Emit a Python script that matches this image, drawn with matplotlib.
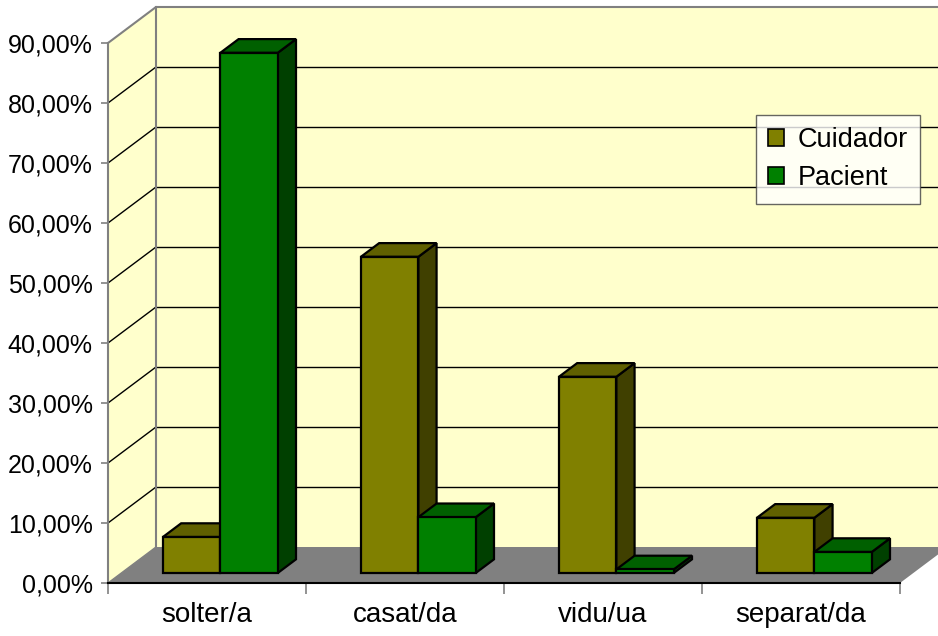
import matplotlib.pyplot as plt
from matplotlib.patches import Polygon

categories = ["solter/a", "casat/da", "vidu/ua", "separat/da"]
series_names = ["Cuidador", "Pacient"]
cuidador = [6.0, 52.7, 32.7, 9.2]
pacient = [86.7, 9.3, 0.6, 3.5]
y_ticks = [0, 10, 20, 30, 40, 50, 60, 70, 80, 90]

# colors: front, top, side
colors = {
    "Cuidador": ("#808000", "#606000", "#404000"),
    "Pacient": ("#008000", "#006000", "#004000"),
}

# depth of the fake 3d box, in data units
DX = 0.2424
DY = 6.0
BAR_OFF = 0.278   # where bars start in depth
BAR_DEPTH = 0.38
BAR_W = 0.29
GAP = 0.21

plt.rcParams['font.family'] = ['Liberation Sans', 'DejaVu Sans']

fig = plt.figure(figsize=(9.38, 6.36), dpi=100)
ax = fig.add_axes([108 / 938, (636 - 583) / 636, 792 / 938, 540 / 636])
n = len(categories)
ax.set_xlim(0, n)
ax.set_ylim(0, 90)


def poly(pts, fc, ec="none", lw=0, z=1):
    p = Polygon(pts, closed=True, facecolor=fc, edgecolor=ec, linewidth=lw,
                clip_on=False, zorder=z, joinstyle="miter")
    ax.add_patch(p)
    return p


top = y_ticks[-1]

# walls and floor
poly([(DX, DY), (n + DX, DY), (n + DX, top + DY), (DX, top + DY)], "#FFFFCC", z=1)
poly([(0, 0), (DX, DY), (DX, top + DY), (0, top)], "#FFFFCC", z=1)
poly([(0, 0), (n, 0), (n + DX, DY), (DX, DY)], "#808080", z=1)

for v in y_ticks[1:-1]:
    ax.plot([DX, n + DX], [v + DY, v + DY], color="black", lw=1, clip_on=False, zorder=2)
    ax.plot([0, DX], [v, v + DY], color="black", lw=1, clip_on=False, zorder=2)

# wall edges
ax.plot([0, DX, n + DX], [top, top + DY, top + DY], color="#808080", lw=1.5, clip_on=False, zorder=2)
ax.plot([DX, DX], [DY, top + DY], color="#808080", lw=1.5, clip_on=False, zorder=2)
ax.plot([0, DX], [0, DY], color="#808080", lw=1, clip_on=False, zorder=2)


def draw_bar(x0, v, name, z):
    front, topc, side = colors[name]
    fx = x0 + BAR_OFF * DX
    fy = BAR_OFF * DY
    bx = x0 + (BAR_OFF + BAR_DEPTH) * DX
    by = (BAR_OFF + BAR_DEPTH) * DY
    poly([(fx + BAR_W, fy), (bx + BAR_W, by), (bx + BAR_W, by + v), (fx + BAR_W, fy + v)],
         side, "black", 1.6, z)
    poly([(fx, fy + v), (fx + BAR_W, fy + v), (bx + BAR_W, by + v), (bx, by + v)],
         topc, "black", 1.6, z)
    poly([(fx, fy), (fx + BAR_W, fy), (fx + BAR_W, fy + v), (fx, fy + v)],
         front, "black", 1.6, z)


for i in range(n):
    draw_bar(i + GAP, cuidador[i], "Cuidador", 3 + 2 * i)
    draw_bar(i + GAP + BAR_W, pacient[i], "Pacient", 4 + 2 * i)

# axes
for s in ["top", "right"]:
    ax.spines[s].set_visible(False)
ax.spines["left"].set_color("#808080")
ax.spines["left"].set_linewidth(1.5)
ax.spines["bottom"].set_color("black")
ax.spines["bottom"].set_linewidth(1.5)
ax.spines["left"].set_zorder(20)
ax.spines["bottom"].set_zorder(20)

ax.set_yticks(y_ticks)
ax.set_yticklabels([f"{v:.2f}%".replace(".", ",") for v in y_ticks], fontsize=18)
ax.tick_params(axis="y", length=5, width=1.2, color="#808080", pad=6)

ax.set_xticks(range(n + 1))
ax.set_xticklabels([])
ax.set_xticks([i + 0.5 for i in range(n)], minor=True)
ax.set_xticklabels(categories, minor=True, fontsize=20)
ax.tick_params(axis="x", which="major", length=8, width=1.2, color="#808080")
ax.tick_params(axis="x", which="minor", length=0, pad=14)

# legend
handles = [Polygon([(0, 0)], facecolor=colors[s][0], edgecolor="black", lw=1.2) for s in series_names]
leg = ax.legend(handles, series_names, loc="upper left", bbox_to_anchor=((756 - 108) / 792, (583 - 115) / 540),
                fontsize=19.5, frameon=True, fancybox=False, borderaxespad=0, handlelength=0.6,
                handleheight=0.6, handletextpad=0.5, labelspacing=0.45, borderpad=0.45)
leg.get_frame().set_edgecolor("#404040")
leg.get_frame().set_linewidth(1)
leg.set_zorder(30)

fig.savefig("out.png", dpi=100)
